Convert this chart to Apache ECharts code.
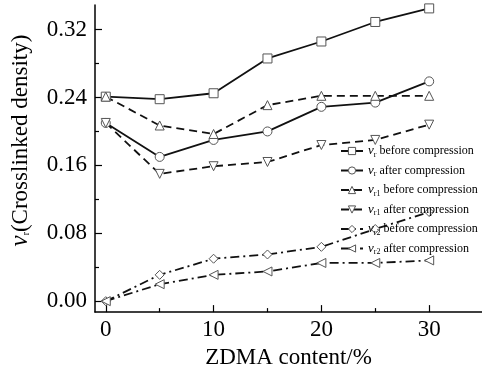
<!DOCTYPE html>
<html><head><meta charset="utf-8">
<script src="https://cdn.jsdelivr.net/npm/echarts@6/dist/echarts.min.js"></script>
<style>html,body{margin:0;padding:0;background:#fff}#c{width:482px;height:374px}</style>
</head><body><div id="c"></div>
<script>
// ZDMA content (%) on the x axis
const zdma = [0, 5, 10, 15, 20, 25, 30];

// crosslinked density values
const vrBefore  = [0.241, 0.238, 0.245, 0.286, 0.306, 0.329, 0.345];
const vrAfter   = [0.210, 0.170, 0.190, 0.200, 0.229, 0.234, 0.259];
const vr1Before = [0.241, 0.207, 0.197, 0.231, 0.242, 0.242, 0.242];
const vr1After  = [0.210, 0.150, 0.159, 0.164, 0.184, 0.190, 0.208];
const vr2Before = [0.000, 0.031, 0.050, 0.055, 0.064, 0.085, 0.105];
const vr2After  = [0.000, 0.020, 0.031, 0.035, 0.045, 0.045, 0.048];

// tick values
const yMajor = [0, 0.08, 0.16, 0.24, 0.32];
const yMinor = [0.04, 0.12, 0.20, 0.28];
const xMajor = [0, 10, 20, 30];
const xMinor = [5, 15, 25];

const FONT = "'Liberation Serif','Times New Roman',serif";
const pairs = ys => zdma.map((x, i) => [x, ys[i]]);

const seriesDefs = [
  { key: 'a', sub: 'r',  state: 'before', data: vrBefore,  symbol: 'rect',     rot: 0,   dash: 'solid' },
  { key: 'b', sub: 'r',  state: 'after',  data: vrAfter,   symbol: 'circle',   rot: 0,   dash: 'solid' },
  { key: 'c', sub: 'r1', state: 'before', data: vr1Before, symbol: 'triangle', rot: 0,   dash: [8, 5] },
  { key: 'd', sub: 'r1', state: 'after',  data: vr1After,  symbol: 'triangle', rot: 180, dash: [8, 5] },
  { key: 'e', sub: 'r2', state: 'before', data: vr2Before, symbol: 'diamond',  rot: 0,   dash: [9, 4, 2, 4] },
  { key: 'f', sub: 'r2', state: 'after',  data: vr2After,  symbol: 'triangle', rot: 90,  dash: [9, 4, 2, 4] }
];
const legendText = {};
seriesDefs.forEach(s => { legendText[s.key] = '{v|v}{s|' + s.sub + '} ' + s.state + ' compression'; });

const yMin = -0.0129, yMax = 0.349, xMin = -1.0, xMax = 34.9;
const markStyle = { color: '#fff', borderColor: '#555', borderWidth: 1 };

const chart = echarts.init(document.getElementById('c'), null, { renderer: 'canvas' });
chart.setOption({
  backgroundColor: '#fff',
  animation: false,
  grid: { left: 94, right: 0, top: 5, bottom: 60, containLabel: false },
  legend: {
    orient: 'vertical', left: 335, top: 139,
    itemWidth: 22, itemHeight: 9, itemGap: 5,
    data: seriesDefs.map(s => s.key),
    formatter: n => legendText[n],
    itemStyle: markStyle,
    textStyle: {
      fontFamily: FONT, fontSize: 12, color: '#000', lineHeight: 14,
      rich: {
        v: { fontFamily: FONT, fontSize: 13, fontStyle: 'italic', color: '#000' },
        s: { fontFamily: FONT, fontSize: 8, color: '#000', padding: [7, 0, 0, 0] }
      }
    }
  },
  xAxis: [{
    type: 'value', min: xMin, max: xMax,
    name: 'ZDMA content/%', nameLocation: 'middle', nameGap: 27,
    nameTextStyle: { fontFamily: FONT, fontSize: 23, color: '#000' },
    axisLine: { show: true, onZero: false, lineStyle: { color: '#000', width: 1.5 } },
    axisTick: { show: true, inside: true, length: 7, customValues: xMajor, lineStyle: { color: '#000', width: 1.2 } },
    axisLabel: { customValues: xMajor, fontFamily: FONT, fontSize: 23, color: '#000', margin: 6 },
    splitLine: { show: false }
  }, {
    type: 'value', min: xMin, max: xMax, position: 'bottom',
    axisLine: { show: false, onZero: false },
    axisTick: { show: true, inside: true, length: 4, customValues: xMinor, lineStyle: { color: '#000', width: 1.2 } },
    axisLabel: { show: false }, splitLine: { show: false }
  }],
  yAxis: [{
    type: 'value', min: yMin, max: yMax,
    name: '{v|ν}{s|r}(Crosslinked density)', nameLocation: 'middle', nameGap: 62,
    nameTextStyle: {
      fontFamily: FONT, fontSize: 23, color: '#000', padding: [0, 0, 0, 36],
      rich: {
        v: { fontFamily: FONT, fontSize: 25, fontStyle: 'italic', color: '#000' },
        s: { fontFamily: FONT, fontSize: 10, color: '#000', padding: [12, 0, 0, 0] }
      }
    },
    axisLine: { show: true, onZero: false, lineStyle: { color: '#000', width: 1.5 } },
    axisTick: { show: true, inside: true, length: 7, customValues: yMajor, lineStyle: { color: '#000', width: 1.2 } },
    axisLabel: { customValues: yMajor, formatter: v => v.toFixed(2), fontFamily: FONT, fontSize: 23, color: '#000', margin: 8 },
    splitLine: { show: false }
  }, {
    type: 'value', min: yMin, max: yMax, position: 'left',
    axisLine: { show: false, onZero: false },
    axisTick: { show: true, inside: true, length: 4, customValues: yMinor, lineStyle: { color: '#000', width: 1.2 } },
    axisLabel: { show: false }, splitLine: { show: false }
  }],
  series: seriesDefs.map(s => ({
    name: s.key, type: 'line', xAxisIndex: 0, yAxisIndex: 0,
    data: pairs(s.data),
    symbol: s.symbol, symbolSize: 9, symbolRotate: s.rot,
    showAllSymbol: true,
    lineStyle: { color: '#111', width: 1.8, type: s.dash },
    itemStyle: markStyle
  }))
});
</script></body></html>
